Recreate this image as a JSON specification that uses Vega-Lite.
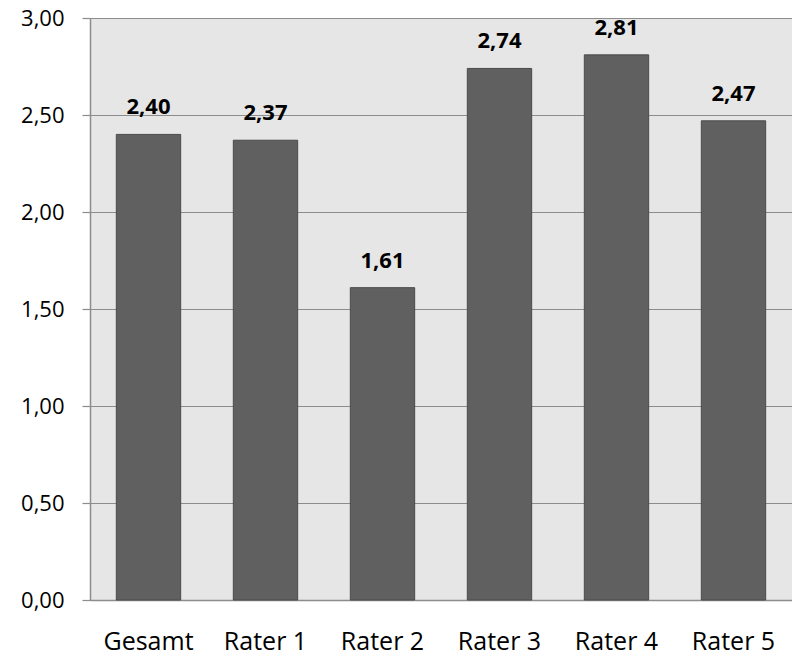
{
  "$schema": "https://vega.github.io/schema/vega-lite/v6.json",
  "width": 702,
  "height": 582,
  "autosize": {"type": "none"},
  "padding": {"left": 90, "top": 18, "right": 0, "bottom": 56},
  "background": "white",
  "data": {
    "values": [
      {"rater": "Gesamt", "wert": 2.40},
      {"rater": "Rater 1", "wert": 2.37},
      {"rater": "Rater 2", "wert": 1.61},
      {"rater": "Rater 3", "wert": 2.74},
      {"rater": "Rater 4", "wert": 2.81},
      {"rater": "Rater 5", "wert": 2.47}
    ]
  },
  "encoding": {
    "x": {
      "field": "rater",
      "type": "nominal",
      "sort": null,
      "scale": {"paddingInner": 0.45, "paddingOuter": 0.225},
      "axis": {
        "title": null,
        "labelAngle": 0,
        "ticks": false,
        "labelPadding": 29,
        "labelFontSize": 25,
        "labelFont": "Open Sans",
        "labelColor": "#000000",
        "domainColor": "#8c8c8c",
        "domainWidth": 1.5
      }
    },
    "y": {
      "field": "wert",
      "type": "quantitative",
      "scale": {"domain": [0, 3]},
      "axis": {
        "title": null,
        "values": [0, 0.5, 1, 1.5, 2, 2.5, 3],
        "format": ".2f",
        "grid": true,
        "gridColor": "#8c8c8c",
        "gridWidth": 1.2,
        "domainColor": "#8c8c8c",
        "domainWidth": 1.5,
        "tickColor": "#8c8c8c",
        "tickSize": 8,
        "tickWidth": 1.2,
        "labelPadding": 18,
        "labelFontSize": 22,
        "labelFont": "Open Sans",
        "labelColor": "#000000"
      }
    }
  },
  "layer": [
    {
      "mark": {"type": "bar", "color": "#606060", "stroke": "#4a4a4a", "strokeWidth": 1}
    },
    {
      "mark": {"type": "text", "baseline": "alphabetic", "dy": -20, "fontSize": 22, "fontWeight": "bold", "font": "Open Sans", "color": "#000000"},
      "encoding": {
        "text": {"field": "wert", "type": "quantitative", "format": ".2f"}
      }
    }
  ],
  "config": {
    "locale": {
      "number": {"decimal": ",", "thousands": ".", "grouping": [3], "currency": ["", " €"]}
    },
    "view": {"fill": "#e6e6e6", "stroke": null}
  }
}
